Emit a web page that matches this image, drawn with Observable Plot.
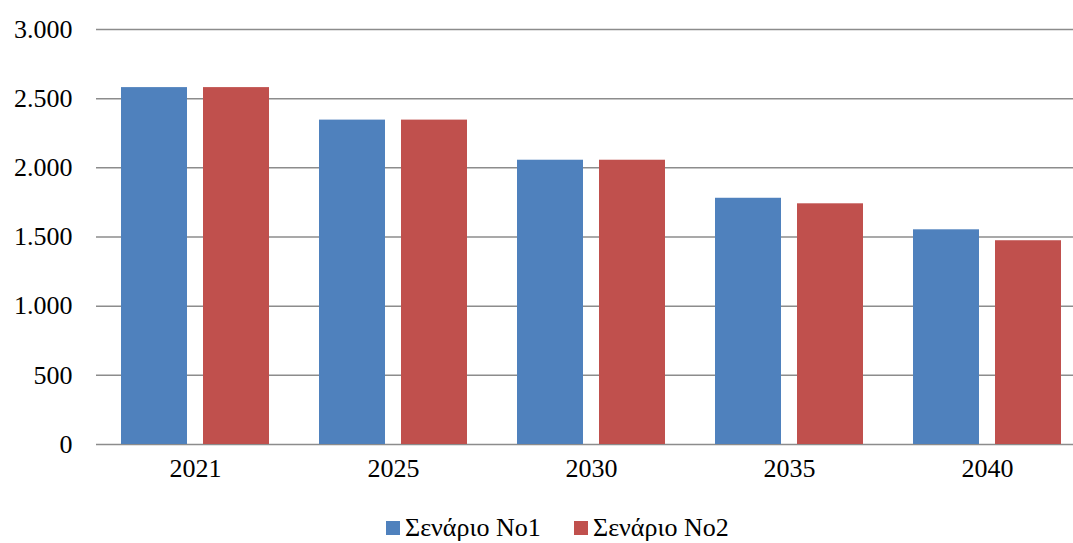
<!DOCTYPE html>
<html>
<head>
<meta charset="utf-8">
<script src="https://cdn.jsdelivr.net/npm/d3@7"></script>
<script src="https://cdn.jsdelivr.net/npm/@observablehq/plot@0.6"></script>
<style>
  html, body { margin: 0; padding: 0; background: #fff; overflow: hidden; width: 1073px; height: 543px; }
  #chart svg { max-width: none !important; width: 1086px; height: 505px; display: block; }
  #legend { position: absolute; top: 505px; left: 0; width: 1073px; height: 38px; font-family: "Liberation Serif", "Times New Roman", serif; font-size: 26px; color: #000; }
  .item { position: absolute; top: 8px; display: flex; align-items: center; }
  .sw { width: 14px; height: 14px; margin-right: 5px; }
</style>
</head>
<body>
<div id="chart"></div>
<div id="legend"></div>
<script>
const years = ["2021", "2025", "2030", "2035", "2040"];
const series = ["Σενάριο No1", "Σενάριο No2"];
const scenario1 = [2580, 2345, 2055, 1780, 1552];
const scenario2 = [2580, 2345, 2055, 1740, 1473];
const colors = ["#4F81BD", "#C0504D"];
const yTicks = [0, 500, 1000, 1500, 2000, 2500, 3000];

const data = [];
years.forEach((y, i) => {
  data.push({year: y, series: series[0], value: scenario1[i]});
  data.push({year: y, series: series[1], value: scenario2[i]});
});

const fmt = v => v === 0 ? "0" : d3.format(",")(v).replace(/,/g, ".");

const chart = Plot.plot({
  width: 1086,
  height: 505,
  marginLeft: 96,
  marginRight: 0,
  marginTop: 29,
  marginBottom: 61,
  style: {fontFamily: "Liberation Serif, Times New Roman, serif", fontSize: "26px", color: "#000", background: "#fff", maxWidth: "none"},
  fx: {domain: years, padding: 0, label: null, axis: "bottom", tickSize: 0, tickPadding: 14},
  x: {domain: series, paddingInner: 0.195, paddingOuter: 0.3, axis: null},
  y: {domain: [0, 3000], ticks: yTicks, tickFormat: fmt, tickSize: 0, tickPadding: 24, label: null},
  color: {domain: series, range: colors},
  marks: [
    Plot.ruleY(yTicks, {stroke: "#8c8c8c", strokeWidth: 1.5}),
    Plot.barY(data, {fx: "year", x: "series", y: "value", fill: "series"})
  ]
});
document.getElementById("chart").appendChild(chart);

const legend = document.getElementById("legend");
const lefts = [386, 574];
series.forEach((s, i) => {
  const it = document.createElement("div");
  it.className = "item";
  it.style.left = lefts[i] + "px";
  const sw = document.createElement("div");
  sw.className = "sw";
  sw.style.background = colors[i];
  const t = document.createElement("span");
  t.textContent = s;
  it.appendChild(sw);
  it.appendChild(t);
  legend.appendChild(it);
});
</script>
</body>
</html>
